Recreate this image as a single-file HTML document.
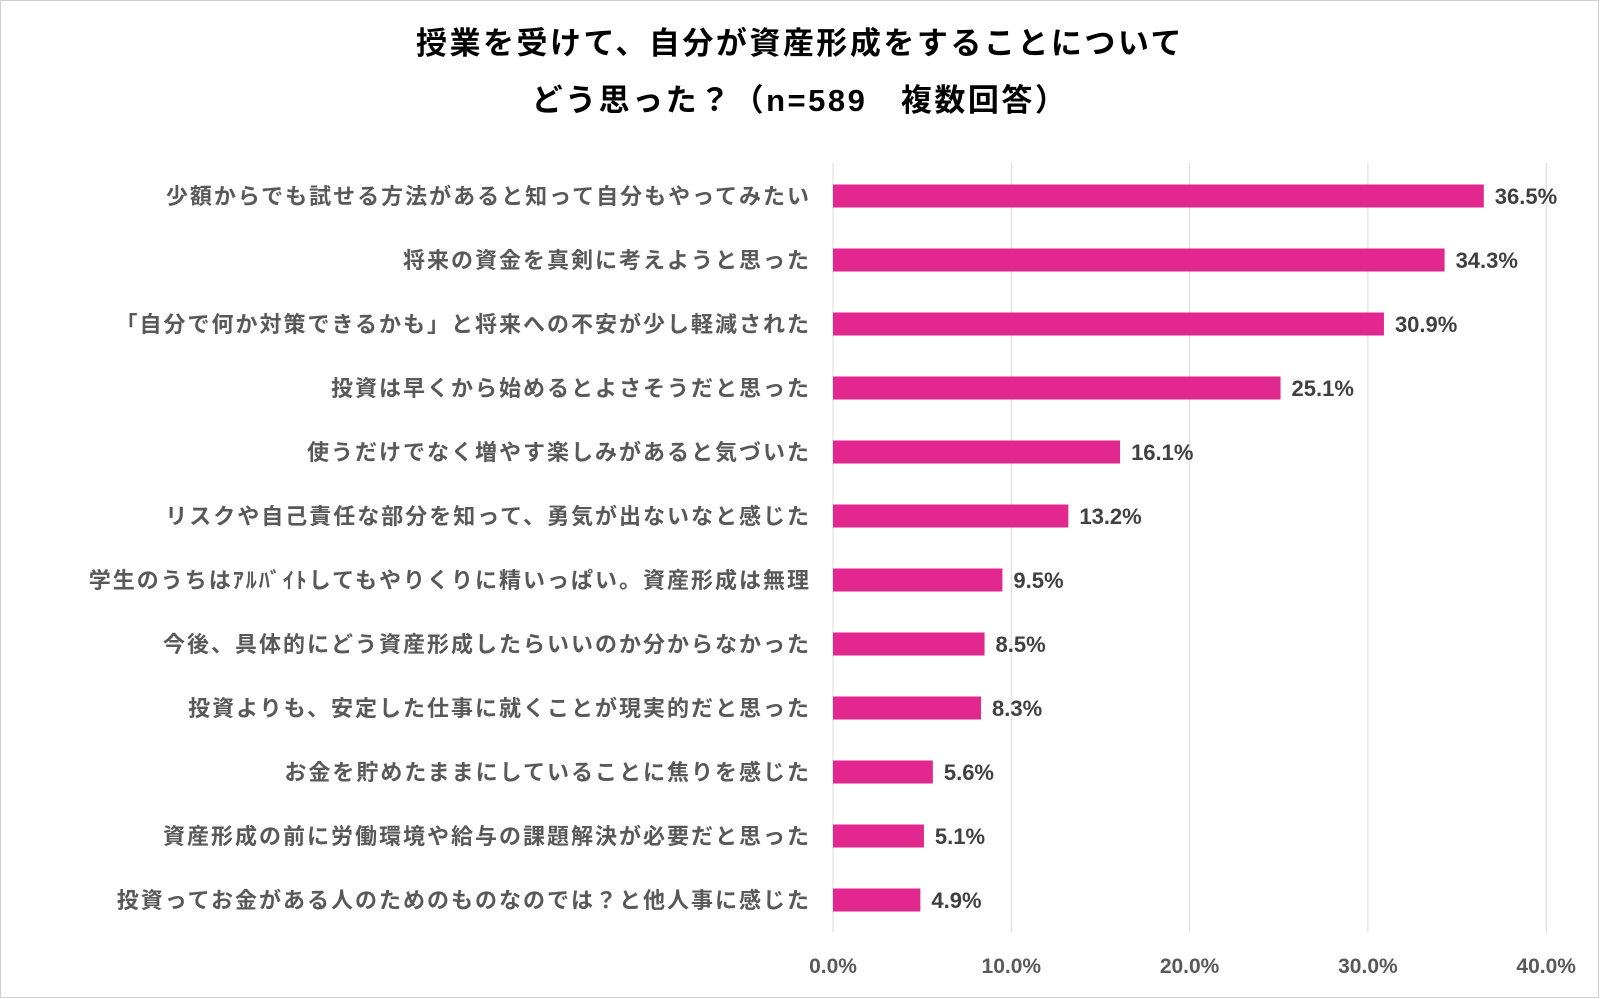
<!DOCTYPE html>
<html><head><meta charset="utf-8">
<style>
html,body{margin:0;padding:0;background:#fff;}
body{width:1600px;height:999px;overflow:hidden;}
svg{display:block;font-family:"Liberation Sans","Noto Sans CJK JP",sans-serif;}
</style></head>
<body>
<svg id="chart" width="1600" height="999" viewBox="0 0 1600 999">
<rect x="0.5" y="0.5" width="1598" height="997" fill="#fff" stroke="#d0d0d0"/>
<text x="800" y="54" text-anchor="middle" font-size="31" font-weight="bold" letter-spacing="2.5" fill="#000">授業を受けて、自分が資産形成をすることについて</text>
<text x="800" y="111" text-anchor="middle" font-size="31" font-weight="bold" letter-spacing="2.5" fill="#000">どう思った？（n=589　複数回答）</text>
<g id="grid"></g><g id="bars"></g><g id="labels"></g><g id="ticks"></g>
</svg>
<script>
const categories=["少額からでも試せる方法があると知って自分もやってみたい","将来の資金を真剣に考えようと思った","「自分で何か対策できるかも」と将来への不安が少し軽減された","投資は早くから始めるとよさそうだと思った","使うだけでなく増やす楽しみがあると気づいた","リスクや自己責任な部分を知って、勇気が出ないなと感じた","学生のうちはｱﾙﾊﾞｲﾄしてもやりくりに精いっぱい。資産形成は無理","今後、具体的にどう資産形成したらいいのか分からなかった","投資よりも、安定した仕事に就くことが現実的だと思った","お金を貯めたままにしていることに焦りを感じた","資産形成の前に労働環境や給与の課題解決が必要だと思った","投資ってお金がある人のためのものなのでは？と他人事に感じた"];
const values=[36.5,34.3,30.9,25.1,16.1,13.2,9.5,8.5,8.3,5.6,5.1,4.9];
const ticks=[0,10,20,30,40];
const tickLabels=["0.0%","10.0%","20.0%","30.0%","40.0%"];
const NS="http://www.w3.org/2000/svg";
const x0=833,pxPer=17.83,yFirst=196,step=64,barH=23,gridTop=163,gridBot=932;
const xs=v=>x0+v*pxPer;
const ys=i=>yFirst+i*step;
function mk(tag,attrs,parent){const e=document.createElementNS(NS,tag);for(const k in attrs)e.setAttribute(k,attrs[k]);document.getElementById(parent).appendChild(e);return e;}
ticks.forEach((t,i)=>{
  const l=mk('line',{x1:xs(t),x2:xs(t),y1:gridTop,y2:gridBot,stroke:'#d9d9d9','stroke-width':1},'grid');
  
  
  const tx=mk('text',{x:xs(t),y:973,'text-anchor':'middle','font-size':21,'font-weight':'bold',fill:'#595959'},'ticks');
  tx.textContent=tickLabels[i];
  
  
});
categories.forEach((c,i)=>{
  const y=ys(i);
  const r=mk('rect',{x:x0,y:y-barH/2,width:values[i]*pxPer,height:barH,fill:'#E2288E'},'bars');
  
  
  const v=mk('text',{x:xs(values[i])+11,y:y+8,'font-size':22,'font-weight':'bold',fill:'#404040'},'labels');
  v.textContent=values[i].toFixed(1)+'%';
  
  
  const t=mk('text',{x:811,y:y+8,'text-anchor':'end','font-size':22,'letter-spacing':2,'font-weight':'bold',fill:'#595959'},'labels');
  t.textContent=c;
  
  
});
</script>
</body></html>
